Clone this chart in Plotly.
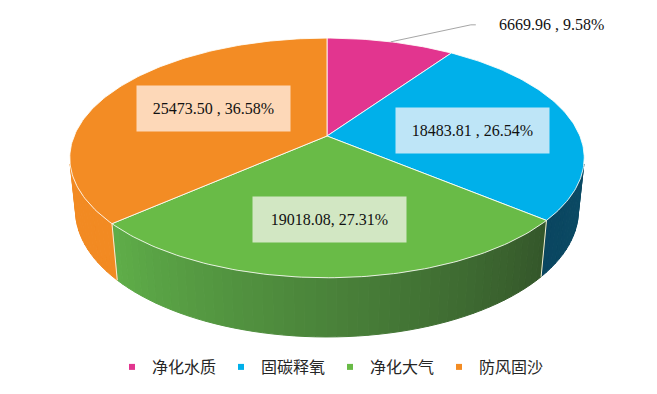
import numpy as np
import plotly.graph_objects as go

# ---------------- data ----------------
categories = ["净化水质", "固碳释氧", "净化大气", "防风固沙"]
values = [6669.96, 18483.81, 19018.08, 25473.50]
percents = [9.58, 26.54, 27.31, 36.58]
label_texts = ["6669.96 , 9.58%", "18483.81 , 26.54%", "19018.08, 27.31%", "25473.50 , 36.58%"]

# ---------------- style ----------------
top_colors = ["#E2358F", "#00B0EA", "#69BB47", "#F38C24"]
wall_colors = [("#9C2262", "#9C2262"), ("#0B5570", "#0A4660"),
               ("#34562A", "#5FAE49"), ("#F28A22", "#F28A22")]
label_bg = [None, "#BEE5F7", "#D2E7C3", "#FDD8B8"]
label_r = [None, 0.59, 0.64, 0.51]
label_dy = [0, 4, 0, -4]

WIN_W, WIN_H = 657, 394
BODY = 8  # default page margin of the html body
W, Hgt = WIN_W - BODY, WIN_H - BODY

# perspective projection parameters (window pixels)
CX, CY = 327.0, 136.0
F, D = 1229.0, 4.86
SIN_T, COS_T = 0.458, 0.889
DEPTH = 0.235


def proj(theta, z=0.0, r=1.0):
    theta = np.asarray(theta, dtype=float)
    X = r * np.sin(theta)
    Y = r * np.cos(theta)
    depth = D + Y * COS_T - z * SIN_T
    return CX + F * X / depth, CY - F * (Y * SIN_T + z * COS_T) / depth


def mix(c0, c1, t):
    a = [int(c0[i:i + 2], 16) for i in (1, 3, 5)]
    b = [int(c1[i:i + 2], 16) for i in (1, 3, 5)]
    c = [round(a[k] + (b[k] - a[k]) * t) for k in range(3)]
    return "#%02x%02x%02x" % tuple(c)


vals = np.array(values, dtype=float)
frac = vals / vals.sum()
ends = 2 * np.pi * np.cumsum(frac)
starts = np.concatenate([[0.0], ends[:-1]])

fig = go.Figure()

# ---------------- side walls ----------------
vis_lo = np.arccos(-1.0 / (D * COS_T))
vis_hi = 2 * np.pi - vis_lo
for i in range(len(values)):
    a0, a1 = starts[i], ends[i]
    lo, hi = max(a0, vis_lo), min(a1, vis_hi)
    if hi <= lo:
        continue
    nseg = max(1, int(np.degrees(hi - lo) / 2))
    edges = np.linspace(lo, hi, nseg + 1)
    for j in range(nseg):
        th = np.linspace(edges[j], edges[j + 1], 5)
        xt, yt = proj(th, 0.0)
        xb, yb = proj(th[::-1], -DEPTH)
        t = (0.5 * (edges[j] + edges[j + 1]) - a0) / (a1 - a0)
        col = mix(wall_colors[i][0], wall_colors[i][1], t)
        fig.add_trace(go.Scatter(
            x=np.concatenate([xt, xb, xt[:1]]), y=np.concatenate([yt, yb, yt[:1]]),
            mode="lines", fill="toself", fillcolor=col,
            line=dict(color=col, width=1), hoverinfo="skip", showlegend=False))

# wall boundary lines
for b in starts:
    if vis_lo < b < vis_hi:
        x0, y0 = proj(b, 0.0)
        x1, y1 = proj(b, -DEPTH)
        fig.add_trace(go.Scatter(x=[x0, x1], y=[y0, y1], mode="lines",
                                 line=dict(color="#F3EFD8", width=1),
                                 hoverinfo="skip", showlegend=False))

# ---------------- top faces ----------------
for i in range(len(values)):
    n = max(8, int(np.degrees(ends[i] - starts[i])))
    th = np.linspace(starts[i], ends[i], n)
    xs, ys = proj(th, 0.0)
    fig.add_trace(go.Scatter(
        x=np.concatenate([[CX], xs, [CX]]), y=np.concatenate([[CY], ys, [CY]]),
        mode="lines", fill="toself", fillcolor=top_colors[i],
        line=dict(color="rgba(255,255,250,0.85)", width=1),
        name=categories[i], hoverinfo="skip", showlegend=False))

# ---------------- legend entries ----------------
for i in range(len(values)):
    fig.add_trace(go.Scatter(x=[None], y=[None], mode="markers",
                             marker=dict(symbol="square", size=6, color=top_colors[i]),
                             name=categories[i]))

# ---------------- labels ----------------
annotations = []
for i in range(len(values)):
    mid = 0.5 * (starts[i] + ends[i])
    if label_bg[i] is None:
        px, py = proj(mid, 0.0, 1.0)
        p1x, p1y = px + 80, py - 17
        p2x, p2y = p1x + 5, p1y
        fig.add_trace(go.Scatter(x=[px, p1x, p2x], y=[py, p1y, p2y], mode="lines",
                                 line=dict(color="#A6A6A6", width=1),
                                 hoverinfo="skip", showlegend=False))
        annotations.append(dict(x=p2x + 21, y=p2y, xref="x", yref="y", text=label_texts[i],
                                showarrow=False, xanchor="left", yanchor="middle",
                                font=dict(family="Liberation Serif", size=16, color="#111111")))
    else:
        lx, ly = proj(mid, 0.0, label_r[i])
        annotations.append(dict(x=float(lx), y=float(ly) + label_dy[i], xref="x", yref="y",
                                text=label_texts[i],
                                showarrow=False, xanchor="center", yanchor="middle",
                                bgcolor=label_bg[i], width=153, height=45, borderpad=0,
                                font=dict(family="Liberation Serif", size=16, color="#111111")))

fig.update_layout(
    width=W, height=Hgt,
    margin=dict(l=0, r=0, t=0, b=0),
    paper_bgcolor="white", plot_bgcolor="white",
    xaxis=dict(range=[BODY, WIN_W], visible=False, fixedrange=True),
    yaxis=dict(range=[WIN_H, BODY], visible=False, fixedrange=True),
    showlegend=True,
    legend=dict(orientation="h", x=(112 - BODY) / W, xanchor="left",
                y=(WIN_H - 367) / Hgt, yanchor="middle",
                entrywidth=64, entrywidthmode="pixels", bgcolor="rgba(0,0,0,0)",
                font=dict(family="Noto Sans CJK SC", size=16, color="#262626")),
    annotations=annotations,
)

fig.write_html("out.html")
